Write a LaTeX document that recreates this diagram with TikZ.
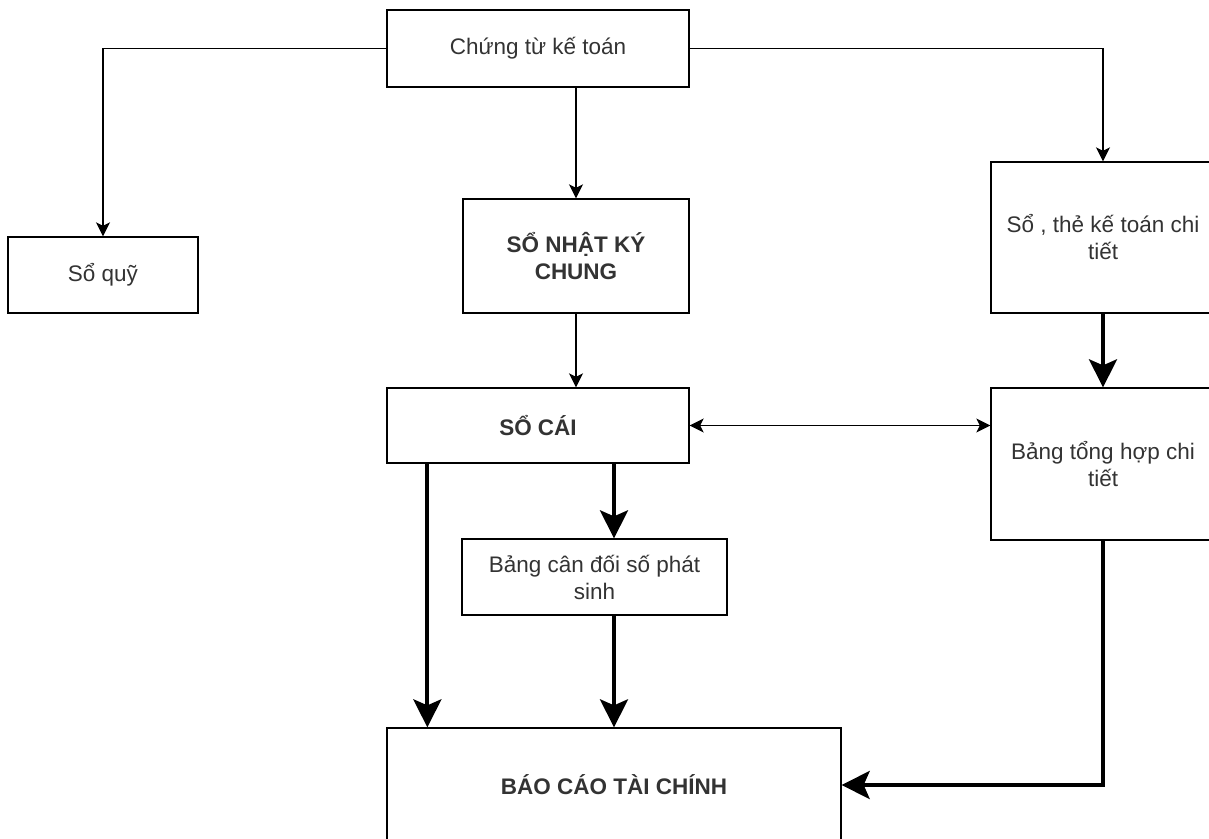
\documentclass[tikz,border=0pt]{standalone}
\usepackage{fontspec}
\setmainfont{Liberation Sans}
\usetikzlibrary{arrows.meta}

\begin{document}
\begin{tikzpicture}[x=1pt,y=-1pt,
  box/.style={draw,line width=1.3pt,inner sep=0pt,align=center,text=black!80,
    font=\fontsize{22.5}{27}\selectfont},
  boldbox/.style={box,font=\fontsize{22.5}{27}\selectfont\bfseries},
  thin/.style={line width=1.5pt,-{Stealth[length=14pt,width=14pt,inset=3.5pt]}},
  both/.style={line width=1.5pt,{Stealth[length=14pt,width=14pt,inset=3.5pt]}-{Stealth[length=14pt,width=14pt,inset=3.5pt]}},
  thick/.style={line width=4pt,-{Stealth[length=28pt,width=28pt,inset=6pt]}}]
\useasboundingbox (0,0) rectangle (1209,838);
\clip (0,0) rectangle (1209,838);
\node[box,minimum width=302pt,minimum height=77pt] (chungtu) at (538,48.5) {Chứng từ kế toán};
\node[box,minimum width=190pt,minimum height=76pt] (soquy) at (103,275) {Sổ quỹ};
\node[boldbox,minimum width=226pt,minimum height=114pt] (nhatky) at (576,256) {SỔ NHẬT KÝ\\CHUNG};
\node[box,minimum width=224pt,minimum height=151pt] (sothe) at (1103,237.5) {Sổ , thẻ kế toán chi\\tiết};
\node[boldbox,minimum width=302pt,minimum height=75pt] (socai) at (538,425.5) {SỔ CÁI};
\node[box,minimum width=224pt,minimum height=152pt] (tonghop) at (1103,464) {Bảng tổng hợp chi\\tiết};
\node[box,minimum width=265pt,minimum height=76pt] (candoi) at (594.5,577) {Bảng cân đối số phát\\sinh};
\node[boldbox,minimum width=454pt,minimum height=114pt] (baocao) at (614,785) {BÁO CÁO TÀI CHÍNH};
\draw[thin] (chungtu.west) -| (soquy.north);
\draw[thin] (chungtu.east) -| (sothe.north);
\draw[thin] (chungtu.south -| nhatky.north) -- (nhatky.north);
\draw[thin] (nhatky.south) -- (nhatky.south |- socai.north);
\draw[both] (socai.east) -- (socai.east -| tonghop.west);
\draw[thick] (sothe.south) -- (tonghop.north);
\draw[thick] ([xshift=41pt]socai.south west) -- ([xshift=41pt]baocao.north west);
\draw[thick] (socai.south -| baocao.north) -- (candoi.north -| baocao.north);
\draw[thick] (candoi.south -| baocao.north) -- (baocao.north);
\draw[thick] (tonghop.south) |- (baocao.east);
\end{tikzpicture}
\end{document}
